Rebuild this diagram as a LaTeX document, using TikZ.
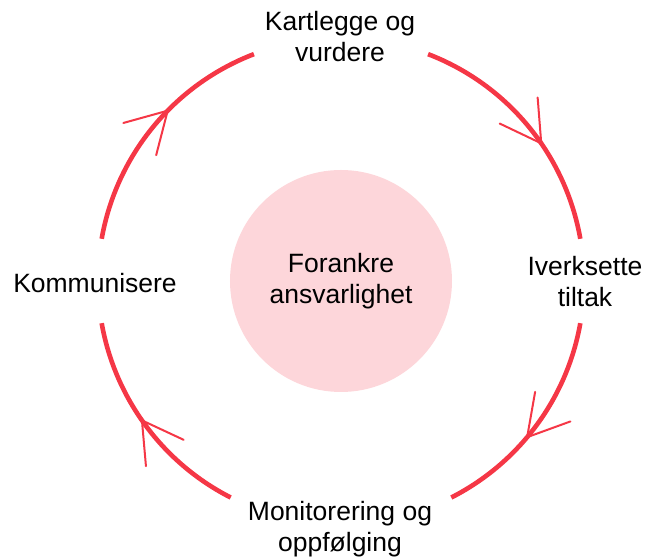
\documentclass[tikz,border=0pt]{standalone}
\usepackage{fontspec}
\setmainfont{Liberation Sans}
\usepackage{tikz}
\usetikzlibrary{calc}
\definecolor{ringred}{RGB}{245,55,70}
\definecolor{corepink}{RGB}{253,214,218}
\tikzstyle{step label} = [text centered, align=center, font=\fontsize{13.25}{15.5}\selectfont]
\tikzstyle{core} = [circle, minimum size=111pt, fill=corepink, text centered, align=center, font=\fontsize{13.25}{15.5}\selectfont]
\tikzstyle{ring} = [line width=2.3pt, draw=ringred]
\tikzstyle{barb} = [line width=1pt, draw=ringred, line cap=round]
\newcommand{\ringR}{121.5pt}

\begin{document}
\begin{tikzpicture}

\useasboundingbox (-170.5pt,-139.5pt) rectangle (159pt,140.5pt);
\coordinate (mid) at (0,0);

\node (forankre) [core] at (mid) {Forankre\\ansvarlighet};
\node (kartlegge) [step label] at (-0.5pt,122pt) {Kartlegge og\\vurdere};
\node (iverksette) [step label] at (122pt,-0.5pt) {Iverksette\\tiltak};
\node (monitorering) [step label] at (-0.5pt,-124pt) {Monitorering og\\oppfølging};
\node (kommunisere) [step label] at (-123pt,-1pt) {Kommunisere};

% ring pieces between the labels
\foreach \s/\e in {10/69, 111/170, 190/243, 297/350}
  \draw [ring] (mid) ++(\s:\ringR) arc[start angle=\s, end angle=\e, radius=\ringR];

% open heads, clockwise
\foreach \a in {135.5, 34.5, -40, 215}
  \draw [barb] ($(mid)+(\a:\ringR)$) -- ++(\a+60:23pt)
               ($(mid)+(\a:\ringR)$) -- ++(\a+120:23pt);

\end{tikzpicture}
\end{document}
